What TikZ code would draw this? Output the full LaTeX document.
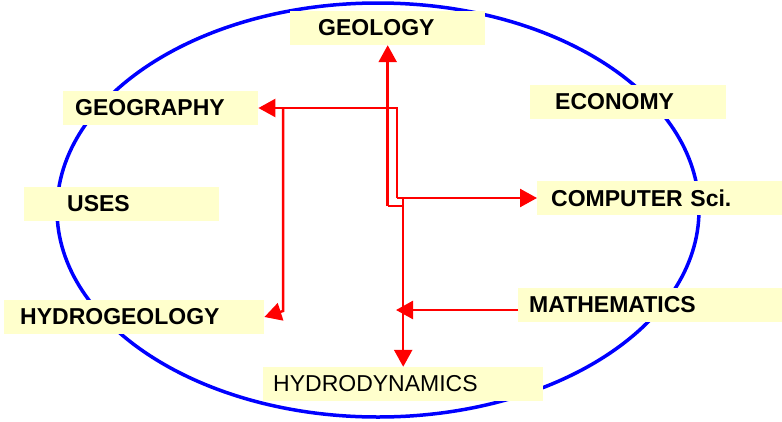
\documentclass[tikz,border=0pt]{standalone}
\usepackage{fontspec}
\setmainfont{Liberation Sans}
\usepackage{tikz}
\usetikzlibrary{arrows.meta}

\definecolor{paleyellow}{RGB}{255,255,204}

\tikzset{
    field/.style={fill=paleyellow, anchor=west, align=left, minimum height=34pt,
        inner ysep=0pt, font=\fontsize{23}{26}\selectfont\bfseries},
    wire/.style={red, line width=2.5pt},
}

\begin{document}
\begin{tikzpicture}[x=1pt, y=-1pt, >={Triangle[length=17pt, width=18pt]}]
    \useasboundingbox (0,0) rectangle (782,421);
    % 1. Khung elip
    \draw[blue, line width=3.5pt] (378,210) ellipse [x radius=321pt, y radius=207pt];

    % 2. Các ô chữ
    \node[field, inner xsep=28pt, text width=139pt] (geology) at (290,28) {GEOLOGY};
    \node[field, inner xsep=12pt, text width=171pt] (geography) at (63,108) {GEOGRAPHY};
    \node[field, inner xsep=43pt, text width=109pt] (uses) at (24,204) {USES};
    \node[field, inner xsep=16pt, text width=228pt] (hydrogeology) at (4,317) {HYDROGEOLOGY};
    \node[field, inner xsep=25pt, text width=146pt] (economy) at (530,102) {ECONOMY};
    \node[field, inner xsep=14pt, text width=217pt] (computer) at (537,198) {COMPUTER Sci.};
    \node[field, inner xsep=11pt, text width=242pt] (mathematics) at (518,305) {MATHEMATICS};
    \node[field, inner xsep=10pt, text width=260pt, font=\fontsize{23}{26}\selectfont]
        (hydrodynamics) at (263,384) {HYDRODYNAMICS};

    % 3. Các mũi tên
    \draw[wire, ->] (geology.south |- 0,206) -- (geology.south);
    \draw[wire] (geology.south |- 0,206) -- (hydrodynamics.north |- 0,206);
    \draw[wire, ->] (hydrodynamics.north |- computer.west) -- (hydrodynamics.north);
    \draw[wire, ->] (397,198) |- (geography.east);
    \draw[wire, ->] (397,198) -- (computer.west);
    \draw[wire, ->] (283,108) -- (283,311) -- (hydrogeology.east);
    \draw[wire, ->] ([yshift=-5pt]mathematics.west) -- ++(-122,0);
\end{tikzpicture}
\end{document}
